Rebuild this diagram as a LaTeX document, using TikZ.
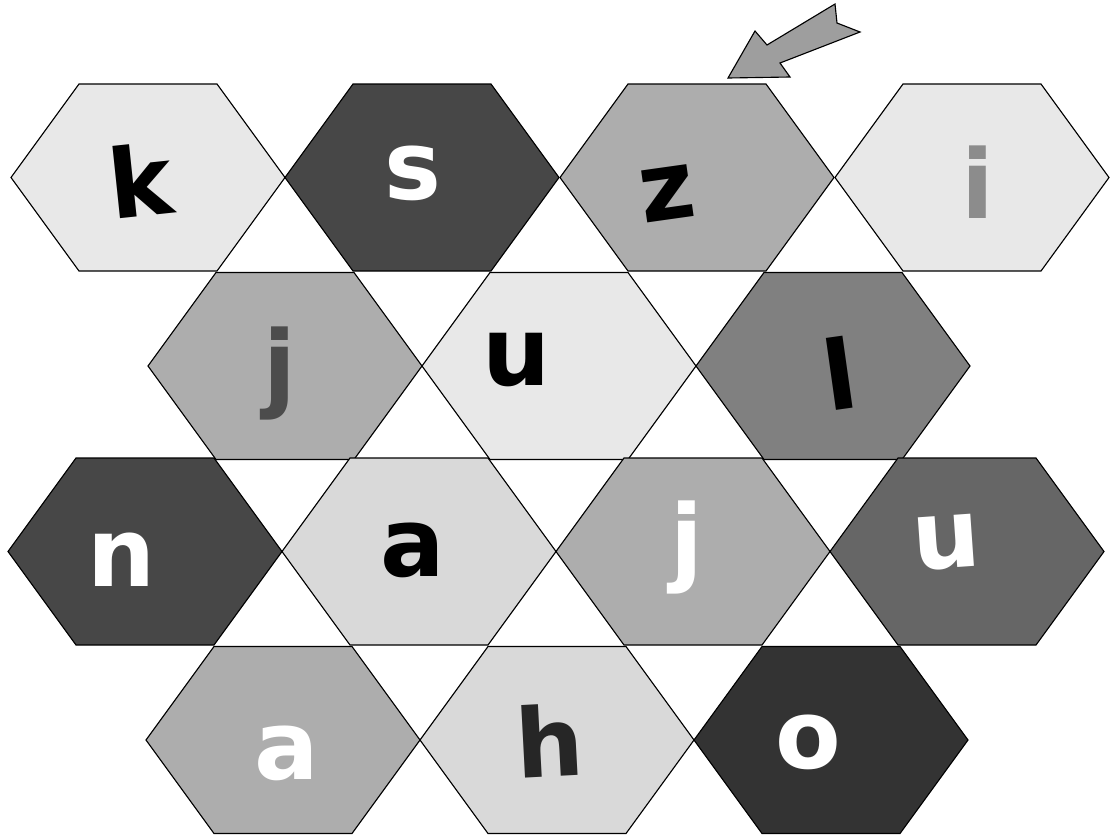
\documentclass[tikz,border=0pt]{standalone}
\usepackage{fontspec}
\setmainfont{DejaVu Sans}
\usepackage{xcolor}
\usetikzlibrary{calc}

% tile shades
\definecolor{tilepale}{gray}{0.91}
\definecolor{tilelight}{gray}{0.85}
\definecolor{tilemid}{gray}{0.68}
\definecolor{tilegrey}{gray}{0.50}
\definecolor{tiledeep}{gray}{0.40}
\definecolor{tiledark}{gray}{0.28}
\definecolor{tileblack}{gray}{0.20}
\definecolor{pointerfill}{gray}{0.62}

\tikzset{
    hexcell/.style={draw=black, line width=0.8pt, line join=miter},
    tileletter/.style={font=\fontsize{68}{68}\selectfont\bfseries, inner sep=0pt},
    pointer/.style={draw=black, line width=0.8pt, fill=pointerfill, line join=miter}
}

\begin{document}
\begin{tikzpicture}[x=0.025cm, y=-0.025cm]
    \useasboundingbox (0,0) rectangle (1112,836);

    % 1. Hexagon tiles (centre x, centre y, shade)
    \foreach \cx/\cy/\shade in {
        148/177.5/tilepale, 422/177.5/tiledark, 697/177.5/tilemid, 972/177.5/tilepale,
        285/366/tilemid, 559/366/tilepale, 833/366/tilegrey,
        145/551.5/tiledark, 419/551.5/tilelight, 693/551.5/tilemid, 967/551.5/tiledeep,
        283/740/tilemid, 557/740/tilelight, 831/740/tileblack} {
        \draw[hexcell, fill=\shade]
            (\cx-137,\cy) -- (\cx-69,\cy-93.5) -- (\cx+69,\cy-93.5)
            -- (\cx+137,\cy) -- (\cx+69,\cy+93.5) -- (\cx-69,\cy+93.5) -- cycle;
    }

    % 2. Letters on the tiles
    \foreach \name/\lx/\ly/\ltr/\ink/\tilt in {
        k/140/180/k/black/6, s/413/173/s/white/0, z/667/194/z/black/8, i/978/182/i/black!45/0,
        j1/280/373/j/black!70/0, u1/517/360/u/black/0, l/840/373/l/black/8,
        n/122/560/n/white/0, a1/413/550/a/black/0, j2/687/547/j/white/0, u2/947/543/u/white/4,
        a2/287/753/a/white/0, h/550/740/h/black!85/3, o/808/742/o/white/0} {
        \node[tileletter, text=\ink, rotate=\tilt] (\name) at (\lx,\ly) {\ltr};
    }

    % 3. Pointer arrow at the top
    \draw[pointer] (728,78) -- (755,31) -- (767,45) -- (835,4) -- (837,23)
        -- (860,32) -- (780,63) -- (790,77) -- cycle;
\end{tikzpicture}
\end{document}
